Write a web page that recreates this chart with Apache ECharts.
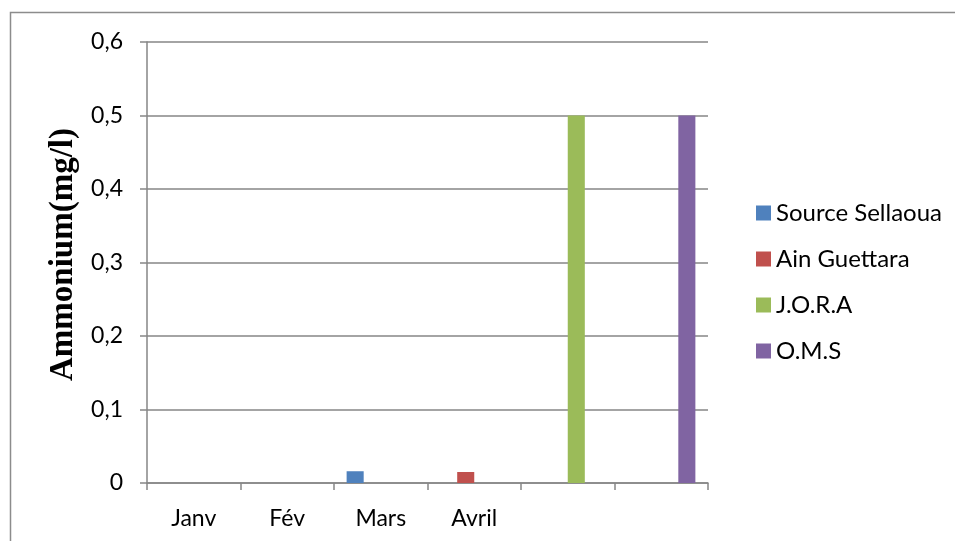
<!DOCTYPE html>
<html>
  <head>
    <meta charset="utf-8" />
    <title>Ammonium</title>
    <script src="https://cdn.jsdelivr.net/npm/echarts@6/dist/echarts.min.js"></script>
  </head>
  <body style="margin:0">
    <div id="main" style="width: 955px; height: 541px"></div>
    <script type="text/javascript">
      // categories (the last two are empty in the original)
      var months = ["Janv", "Fév", "Mars", "Avril", "", ""];
      var yTicks = [0, 0.1, 0.2, 0.3, 0.4, 0.5, 0.6];

      // values per series, one per category
      var sellaoua = [0, 0, 0.016, 0, 0, 0];
      var guettara = [0, 0, 0, 0.015, 0, 0];
      var jora = [0, 0, 0, 0, 0.5, 0];
      var oms = [0, 0, 0, 0, 0, 0.5];

      var names = ["Source Sellaoua", "Ain Guettara", "J.O.R.A", "O.M.S"];
      var colors = ["#4f81bd", "#c0504d", "#9bbb59", "#8064a2"];
      var values = [sellaoua, guettara, jora, oms];

      var myChart = echarts.init(document.getElementById("main"), null, {
        renderer: "canvas",
      });

      var axisGray = "#868686";
      var font = "Lato, 'Open Sans', sans-serif";

      var option = {
        animation: false,
        backgroundColor: "#fff",
        color: colors,
        graphic: [
          {
            type: "rect",
            shape: { x: 10.5, y: 12.5, width: 1000, height: 600 },
            style: { fill: "none", stroke: "#8c8c8c", lineWidth: 1.5 },
            silent: true,
          },
        ],
        grid: { left: 147, right: 247, top: 42, bottom: 58 },
        legend: {
          orient: "vertical",
          left: 751,
          top: 196,
          itemWidth: 15,
          itemHeight: 15,
          itemGap: 22,
          icon: "rect",
          textStyle: { fontFamily: font, fontSize: 24, color: "#000" },
          data: names,
        },
        xAxis: {
          type: "category",
          data: months,
          axisLine: { lineStyle: { color: axisGray, width: 1.5 } },
          axisTick: { show: true, length: 7, lineStyle: { color: axisGray, width: 1.5 } },
          axisLabel: {
            fontFamily: font,
            fontSize: 23,
            color: "#000",
            margin: 24,
          },
        },
        yAxis: {
          type: "value",
          min: 0,
          max: 0.6,
          interval: 0.1,
          name: "Ammonium(mg/l)",
          nameLocation: "middle",
          nameGap: 55,
          nameTextStyle: {
            fontFamily: "'Liberation Serif', 'Times New Roman', serif",
            fontWeight: "bold",
            fontSize: 33,
            color: "#000",
            padding: [0, 0, 0, 16],
          },
          axisLine: { show: true, lineStyle: { color: axisGray, width: 1.5 } },
          axisTick: { show: true, length: 7, lineStyle: { color: axisGray, width: 1.5 } },
          splitLine: { lineStyle: { color: axisGray, width: 1.5 } },
          axisLabel: {
            fontFamily: font,
            fontSize: 23,
            color: "#000",
            margin: 24,
            formatter: function (v) {
              var t = yTicks.find(function (k) { return Math.abs(k - v) < 1e-9; });
              return t === 0 ? "0" : String(t).replace(".", ",");
            },
          },
        },
        series: names.map(function (n, i) {
          return {
            name: n,
            type: "bar",
            data: values[i],
            barGap: "0%",
            barCategoryGap: "27%",
            itemStyle: { color: colors[i] },
          };
        }),
      };

      myChart.setOption(option);
    </script>
  </body>
</html>
